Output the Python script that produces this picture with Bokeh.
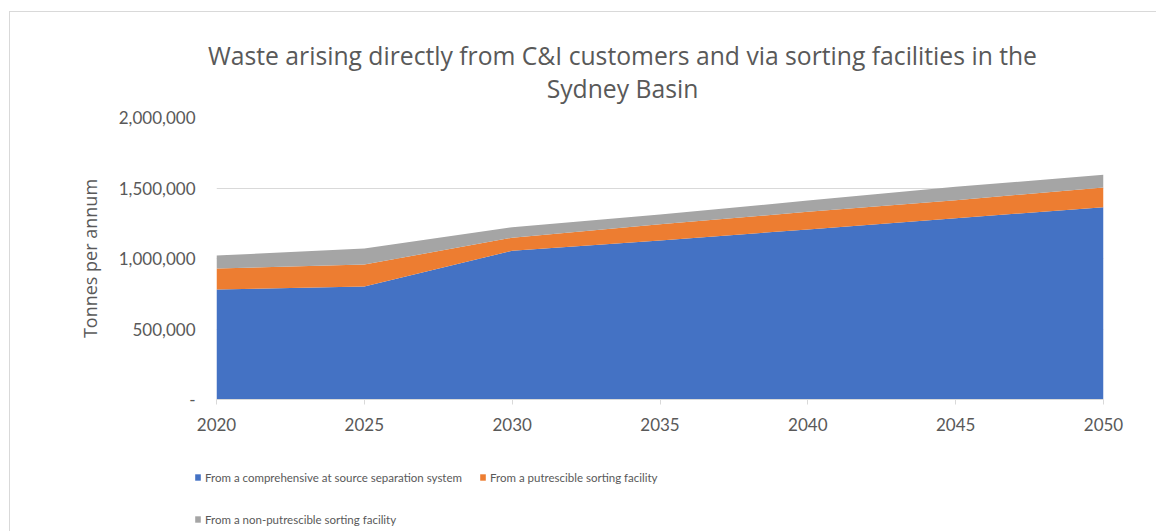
from bokeh.plotting import figure
from bokeh.layouts import column, row
from bokeh.models import (ColumnDataSource, Range1d, Label, Legend, LegendItem,
                          CustomJSTickFormatter, FixedTicker)
from bokeh.embed import file_html
from bokeh.resources import INLINE

# ---- data (tonnes per annum) ----
years = [2020, 2025, 2030, 2035, 2040, 2045, 2050]
at_source = [780000, 801000, 1055000, 1128000, 1206000, 1286000, 1364000]
putrescible = [149000, 156000, 93000, 115000, 125000, 127000, 140000]
non_putrescible = [92000, 114000, 74000, 69000, 80000, 95000, 90000]

series_names = [
    "From a comprehensive at source separation system",
    "From a putrescible sorting facility",
    "From a non-putrescible sorting facility",
]
colors = ["#4472C4", "#ED7D31", "#A5A5A5"]
y_ticks = [0, 500000, 1000000, 1500000, 2000000]
x_ticks = [2020, 2025, 2030, 2035, 2040, 2045, 2050]
title_lines = ["Waste arising directly from C&I customers and via sorting facilities in the",
               "Sydney Basin"]

source = ColumnDataSource(dict(year=years, a=at_source, b=putrescible, c=non_putrescible))

TEXT = "#595959"
GRID = "#D9D9D9"
FONT = "Lato"
TFONT = "Open Sans"
W = 1146


def strip(height, xr, yr):
    f = figure(width=W, height=height, output_backend="svg", toolbar_location=None,
               x_range=xr, y_range=yr, x_axis_location=None, y_axis_location=None,
               min_border_left=0, min_border_right=0, min_border_top=0,
               min_border_bottom=0)
    f.outline_line_color = None
    f.grid.grid_line_color = None
    f.border_fill_color = "white"
    return f


# ---- title strip (pixel-like coordinates, y downwards) ----
TH = 94
tf = strip(TH, Range1d(0, W), Range1d(TH, 0))
for line, ty in zip(title_lines, [43, 76]):
    tf.add_layout(Label(x=612, y=ty, text=line, text_align="center",
                        text_baseline="middle", text_font=TFONT,
                        text_font_size="24.7px", text_line_height=1.0,
                        text_color=TEXT))

# ---- main chart ----
p = figure(width=W, height=334, output_backend="svg", toolbar_location=None,
           x_range=Range1d(2020, 2050), y_range=Range1d(0, 2000000),
           min_border_left=206, min_border_right=53, min_border_top=11,
           min_border_bottom=41)
p.outline_line_color = None
p.border_fill_color = "white"

rs = p.varea_stack(stackers=["a", "b", "c"], x="year", color=colors, source=source)

p.xaxis.ticker = FixedTicker(ticks=x_ticks)
p.xaxis.axis_line_color = GRID
p.xaxis.major_tick_line_color = GRID
p.xaxis.major_tick_out = 5
p.xaxis.major_tick_in = 0
p.xaxis.minor_tick_line_color = None
p.xaxis.major_label_text_font = FONT
p.xaxis.major_label_text_font_size = "17px"
p.xaxis.major_label_text_color = TEXT
p.xaxis.major_label_standoff = 13

p.yaxis.ticker = FixedTicker(ticks=y_ticks)
p.yaxis.formatter = CustomJSTickFormatter(
    code="return tick == 0 ? '-' : tick.toLocaleString('en-US');")
p.yaxis.axis_line_color = None
p.yaxis.major_tick_line_color = None
p.yaxis.minor_tick_line_color = None
p.yaxis.major_label_text_font = FONT
p.yaxis.major_label_text_font_size = "17px"
p.yaxis.major_label_text_color = TEXT
p.yaxis.major_label_standoff = 15
p.yaxis.axis_label = "Tonnes per annum"
p.yaxis.axis_label_text_font = TFONT
p.yaxis.axis_label_text_font_size = "18px"
p.yaxis.axis_label_text_font_style = "normal"
p.yaxis.axis_label_text_color = TEXT
p.yaxis.axis_label_standoff = 14

p.xgrid.grid_line_color = None
p.ygrid.grid_line_color = GRID
p.ygrid.ticker = FixedTicker(ticks=y_ticks)

# ---- legend strip (series drawn out of view, only their legend glyphs show) ----
lg = strip(91, Range1d(2020, 2050), Range1d(-2, -1))
lrs = lg.varea_stack(stackers=["a", "b", "c"], x="year", color=colors, source=source)
leg_pos = [(184, 47), (469, 47), (184, 5)]
for r, name, loc in zip(lrs, series_names, leg_pos):
    leg = Legend(items=[LegendItem(label=name, renderers=[r])], location=loc,
                 orientation="horizontal", padding=0, margin=0,
                 border_line_color=None, background_fill_alpha=0,
                 glyph_width=7, glyph_height=8, label_standoff=4,
                 label_height=14, label_text_font=FONT,
                 label_text_font_size="11.5px", label_text_color=TEXT)
    lg.add_layout(leg, "center")

layout = column(row(tf), p, row(lg), spacing=0,
                styles={"border-top": "1px solid #D9D9D9", "border-left": "1px solid #D9D9D9",
                        "margin-top": "11px", "margin-left": "9px"})

open("out.html", "w").write(file_html(layout, INLINE))
